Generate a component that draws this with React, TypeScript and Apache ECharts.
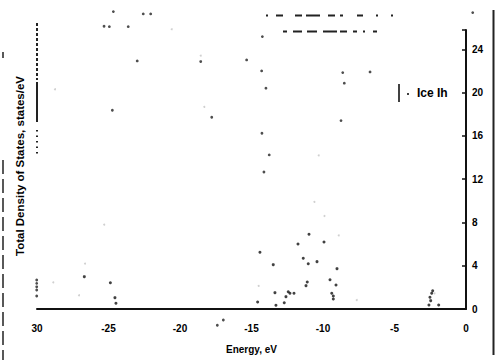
import React, { useEffect, useRef } from 'react';
import * as echarts from 'echarts';

const seriesName = 'Ice Ih';
const xTitle = 'Energy, eV';
const yTitle = 'Total Density of States, states/eV';

// Energy (eV), density of states
const iceDos: [number, number][] = [
  [-26.69, 2.99], [-24.87, 2.43], [-24.55, 1.05], [-24.48, 0.53],
  [-14.41, 5.25], [-14.57, 0.65], [-13.48, 4.1], [-13.36, 1.51], [-13.29, 0.34],
  [-12.71, 0.58], [-12.59, 1.14], [-12.43, 1.6], [-12.31, 1.45], [-12.03, 1.45],
  [-11.75, 6.01], [-11.38, 4.69], [-11.19, 2.16], [-11.1, 2.5], [-11.03, 4.19],
  [-10.98, 6.91], [-10.42, 4.38], [-9.93, 6.2], [-9.51, 2.71], [-9.39, 1.45],
  [-9.28, 1.2], [-9.28, 0.93], [-9.09, 2.22], [-9.02, 3.73],
  [-2.59, 0.37], [-2.52, 1.08], [-2.47, 0.77], [-2.4, 1.45], [-2.33, 1.69], [-1.91, 0.37],
];

// dark specks of the scanned page
const scanDots: [number, number][] = [
  [-24.66, 27.5], [-22.57, 27.29], [-22.05, 27.29], [-25.31, 26.15], [-24.94, 26.11],
  [-23.62, 26.11], [-22.99, 22.94], [-24.73, 18.38], [-18.55, 22.88], [-15.34, 23.03],
  [-14.29, 22.02], [-13.99, 20.42], [-14.24, 25.19], [-17.78, 17.73], [-14.27, 16.25],
  [-13.76, 14.25], [-14.13, 12.67], [-8.62, 21.86], [-6.71, 21.92], [-8.51, 20.88],
  [-8.74, 17.42], [0.47, 27.41], [-17.39, -1.5], [-16.97, -1.02],
  [-30.02, 2.68], [-30.02, 2.37], [-30.02, 2.05], [-30.02, 1.76], [-30.02, 1.2],
];

// faint specks of the scanned page
const faintDots: [number, number][] = [
  [-28.86, 2.47], [-27.06, 1.27], [-26.64, 4.2], [-25.3, 7.8], [-14.5, 2.13],
  [-7.64, 0.83], [-18.55, 23.43], [-18.3, 18.69], [-20.58, 25.87], [-28.74, 20.32],
  [-2.2, 1.45], [-10.6, 9.9], [-10.3, 14.2], [-9.9, 8.6], [-8.9, 6.8],
];

const xMin = -30;
const xMax = 0;
const xStep = 5;
const yMin = 0;
const yMax = 25.8;
const yStep = 4;

const FONT = '"Liberation Sans", Arial, sans-serif';

export default function App() {
  const ref = useRef<HTMLDivElement>(null);
  useEffect(() => {
    if (!ref.current) return;
    const chart = echarts.init(ref.current, null, { renderer: 'svg' });
    const black = '#111';
    chart.setOption({
      animation: false,
      backgroundColor: '#ffffff',
      grid: { left: 37, right: 29, top: 30, bottom: 51 },
      legend: {
        left: 398,
        top: 84,
        padding: 0,
        itemWidth: 11,
        itemHeight: 18,
        itemGap: 4,
        data: [{ name: seriesName, icon: 'path://M0,0L2,0L2,18L0,18Z M9,9L11,9L11,11L9,11Z' }],
        textStyle: { fontFamily: FONT, fontWeight: 'bold', fontSize: 12, color: '#000', padding: [0, 0, 0, 3] },
      },
      xAxis: {
        type: 'value',
        min: xMin,
        max: xMax,
        interval: xStep,
        name: xTitle,
        nameLocation: 'middle',
        nameGap: 35,
        nameTextStyle: { fontFamily: FONT, fontWeight: 'bold', fontSize: 10, color: '#000' },
        axisLine: { show: true, onZero: false, lineStyle: { color: black, width: 2 } },
        axisTick: { show: false },
        splitLine: { show: false },
        axisLabel: {
          margin: 14,
          fontFamily: FONT,
          fontWeight: 'bold',
          fontSize: 10,
          color: '#000',
          formatter: (v: number) => (v === -30 ? '30' : String(v)),
        },
      },
      yAxis: {
        type: 'value',
        position: 'right',
        min: yMin,
        max: yMax,
        interval: yStep,
        axisLine: { show: true, lineStyle: { color: black, width: 2 } },
        axisTick: { show: true, inside: true, length: 4, lineStyle: { color: black, width: 1.5 } },
        splitLine: { show: false },
        axisLabel: {
          margin: 6,
          fontFamily: FONT,
          fontWeight: 'bold',
          fontSize: 10,
          color: '#000',
          formatter: (v: number) => (v % 4 === 0 ? String(v) : ''),
        },
      },
      series: [
        {
          name: seriesName,
          type: 'scatter',
          data: iceDos,
          symbol: 'circle',
          symbolSize: 3,
          itemStyle: { color: black },
          clip: false,
        },
        {
          name: 'scan',
          type: 'scatter',
          data: scanDots,
          symbol: 'circle',
          symbolSize: 2.8,
          itemStyle: { color: '#222' },
          clip: false,
          silent: true,
        },
        {
          name: 'faint',
          type: 'scatter',
          data: faintDots,
          symbol: 'circle',
          symbolSize: 2,
          itemStyle: { color: '#c4c4c4' },
          clip: false,
          silent: true,
        },
      ],
      graphic: [
        {
          type: 'text',
          x: 20,
          y: 166,
          rotation: Math.PI / 2,
          style: {
            text: yTitle,
            font: `bold 11.5px ${FONT}`,
            fill: '#000',
            align: 'center',
            verticalAlign: 'middle',
          },
        },
        // scan artefacts: edges and streaks
        {
          type: 'line',
          shape: { x1: 266, y1: 15.5, x2: 393, y2: 15.5 },
          style: { stroke: '#222', lineWidth: 2, lineDash: [2, 8, 7, 12, 7, 4, 14, 8, 7, 5, 3, 14, 6, 13, 2, 13, 2, 20] },
        },
        {
          type: 'line',
          shape: { x1: 283, y1: 31.5, x2: 377, y2: 31.5 },
          style: { stroke: '#222', lineWidth: 2, lineDash: [4, 6, 9, 5, 10, 6, 14, 3, 7, 6, 4, 6, 2, 8, 4, 20] },
        },
        { type: 'line', shape: { x1: 37, y1: 23, x2: 37, y2: 80 }, style: { stroke: '#222', lineWidth: 2, lineDash: [3, 2] } },
        { type: 'line', shape: { x1: 37, y1: 82, x2: 37, y2: 122 }, style: { stroke: '#222', lineWidth: 2 } },
        { type: 'line', shape: { x1: 37, y1: 130, x2: 37, y2: 157 }, style: { stroke: '#222', lineWidth: 2, lineDash: [1.5, 4] } },
        { type: 'line', shape: { x1: 3, y1: 160, x2: 3, y2: 360 }, style: { stroke: '#222', lineWidth: 1.5, lineDash: [14, 5] } },
        { type: 'line', shape: { x1: 3, y1: 52, x2: 3, y2: 58 }, style: { stroke: '#222', lineWidth: 1.5 } },
        { type: 'line', shape: { x1: 493.5, y1: 10, x2: 493.5, y2: 355 }, style: { stroke: '#222', lineWidth: 2 } },
      ],
    });
    return () => chart.dispose();
  }, []);
  return (
    <div
      ref={ref}
      style={{ position: 'fixed', left: 0, top: 0, width: 495, height: 360, background: '#fff' }}
    />
  );
}
